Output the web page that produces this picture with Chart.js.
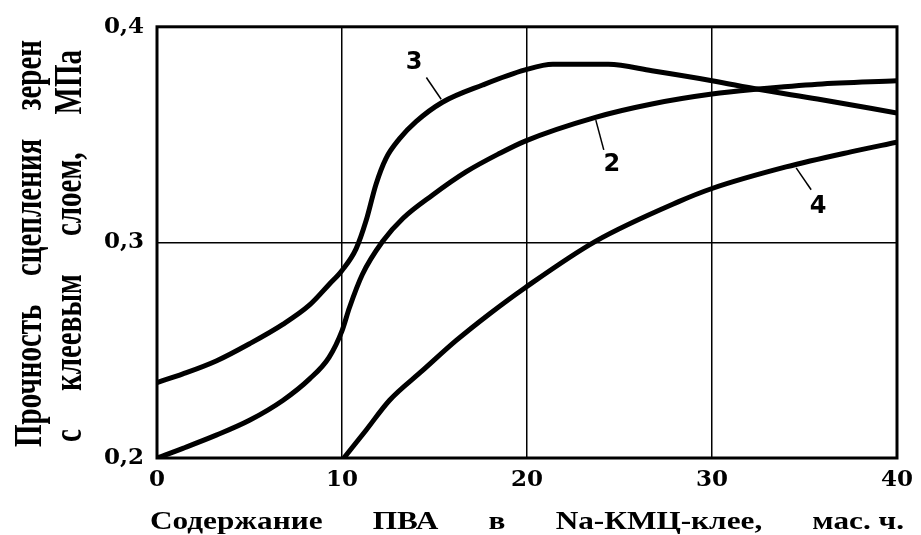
<!DOCTYPE html>
<html><head><meta charset="utf-8">
<script src="https://cdn.jsdelivr.net/npm/chart.js"></script>
<style>html,body{margin:0;padding:0;background:#fff}#w{width:921px;height:535px}</style>
</head><body><div id="w"><canvas id="c" width="921" height="535"></canvas></div>
<script>
// Curve 3 (top)
const x3 = [0, 1.4, 3.2, 5.0, 6.8, 8.25, 9.3, 10, 10.76, 11.3, 11.84, 12.38, 13.1, 14.0, 15.43, 17.6, 19.9, 21.4, 24.4, 26.75, 30, 32.5, 35.7, 40];
const y3 = [0.235, 0.239, 0.245, 0.253, 0.262, 0.271, 0.2805, 0.287, 0.297, 0.310, 0.327, 0.339, 0.348, 0.356, 0.365, 0.373, 0.380, 0.3826, 0.3826, 0.3796, 0.375, 0.371, 0.3665, 0.360];
// Curve 2 (middle)
const x2 = [0, 1.4, 3.2, 5.0, 6.8, 8.25, 9.3, 10, 10.4, 11.1, 12.2, 13.3, 14.9, 16.7, 18.5, 19.9, 23.7, 26.75, 30, 32.5, 35.7, 40];
const y2 = [0.200, 0.2045, 0.2106, 0.2175, 0.2267, 0.2367, 0.2467, 0.259, 0.2697, 0.2851, 0.3005, 0.3112, 0.322, 0.3327, 0.3412, 0.347, 0.358, 0.3642, 0.3688, 0.3711, 0.3734, 0.375];
// Curve 4 (bottom)
const x4 = [10.1, 11.3, 12.56, 14.36, 16.16, 17.95, 19.9, 23.7, 28.2, 30, 34, 37.5, 40];
const y4 = [0.200, 0.2129, 0.2267, 0.2406, 0.2544, 0.2667, 0.279, 0.3005, 0.3189, 0.325, 0.335, 0.342, 0.3465];

const xTicks = [0, 10, 20, 30, 40];
const yTicks = [0.2, 0.3, 0.4];
const yTickLabels = ['0,2', '0,3', '0,4'];
const xTitleWords = ['Содержание', 'ПВА', 'в', 'Na-КМЦ-клее,', 'мас. ч.'];
const yTitleLine1 = ['Прочность', 'сцепления', 'зерен'];
const yTitleLine2 = ['с', 'клеевым', 'слоем,', 'МПа'];
// curve labels: [text, labelX, labelY, leaderX1, leaderY1, leaderX2, leaderY2]
const curveLabels = [
  ['3', 13.9, 0.3834, 14.56, 0.3765, 15.36, 0.3664],
  ['2', 24.58, 0.336, 24.15, 0.3429, 23.72, 0.3567],
  ['4', 35.74, 0.3166, 35.36, 0.3244, 34.55, 0.3346]
];

function pts(xs, ys){ return xs.map((x,i)=>({x:x, y:ys[i]})); }

const serif = "'DejaVu Serif', 'Liberation Serif', serif";
const times = "'Liberation Serif', 'DejaVu Serif', serif";

const decor = {
  id: 'decor',
  afterDatasetsDraw(chart){
    const ctx = chart.ctx, a = chart.chartArea;
    const sx = chart.scales.x, sy = chart.scales.y;
    ctx.save();
    // frame
    ctx.strokeStyle = '#000'; ctx.lineWidth = 3;
    ctx.strokeRect(a.left, a.top, a.right - a.left, a.bottom - a.top);
    // curve labels
    ctx.fillStyle = '#000';
    ctx.font = "bold 24px 'DejaVu Sans', 'Liberation Sans', sans-serif";
    ctx.textAlign = 'center'; ctx.textBaseline = 'middle';
    ctx.lineWidth = 1.5;
    curveLabels.forEach(l => {
      ctx.fillText(l[0], sx.getPixelForValue(l[1]), sy.getPixelForValue(l[2]));
      ctx.beginPath();
      ctx.moveTo(sx.getPixelForValue(l[3]), sy.getPixelForValue(l[4]));
      ctx.lineTo(sx.getPixelForValue(l[5]), sy.getPixelForValue(l[6]));
      ctx.stroke();
    });
    // justified x title (horizontally stretched like the scanned original)
    const XS = 1.25;
    ctx.font = "bold 25px " + times;
    (function(words, start, end, y){
      const widths = words.map(w => ctx.measureText(w).width * XS);
      const total = widths.reduce((s,v)=>s+v,0);
      const gap = (end - start - total) / (words.length - 1);
      let pos = start;
      words.forEach((w,i) => {
        ctx.save();
        ctx.translate(pos, y);
        ctx.scale(XS, 1);
        ctx.textAlign = 'left'; ctx.textBaseline = 'alphabetic';
        ctx.fillText(w, 0, 0);
        ctx.restore();
        pos += widths[i] + gap;
      });
    })(xTitleWords, 150, 904, 529);
    // justified y title lines (rotated, stretched across like the scan)
    function vjust(words, bottom, top, x){
      ctx.font = "bold 29px " + times;
      const widths = words.map(w => ctx.measureText(w).width);
      const total = widths.reduce((s,v)=>s+v,0);
      const gap = (bottom - top - total) / (words.length - 1);
      let pos = bottom;
      words.forEach((w,i) => {
        ctx.save();
        ctx.translate(x, pos);
        ctx.rotate(-Math.PI/2);
        ctx.scale(1, 1.35);
        ctx.textAlign = 'left'; ctx.textBaseline = 'alphabetic';
        ctx.fillText(w, 0, 0);
        ctx.restore();
        pos -= widths[i] + gap;
      });
    }
    vjust(yTitleLine1, 447, 40, 41);
    vjust(yTitleLine2, 442, 50, 81);
    ctx.restore();
  }
};

const lineStyle = {borderColor:'#000', borderWidth:5, pointRadius:0, fill:false, cubicInterpolationMode:'monotone', showLine:true};

new Chart(document.getElementById('c'), {
  type: 'scatter',
  data: { datasets: [
    Object.assign({label:'3', data: pts(x3,y3)}, lineStyle),
    Object.assign({label:'2', data: pts(x2,y2)}, lineStyle),
    Object.assign({label:'4', data: pts(x4,y4)}, lineStyle)
  ]},
  options: {
    responsive:false, animation:false, devicePixelRatio:1,
    layout:{padding:{top:24, right:22, left:0, bottom:0}},
    plugins:{legend:{display:false}, tooltip:{enabled:false}},
    scales:{
      x:{type:'linear', min:0, max:40,
        afterBuildTicks(s){ s.ticks = xTicks.map(v=>({value:v})); },
        afterFit(s){ s.height = 77; },
        grid:{color:'#000', lineWidth:1.5, drawTicks:false},
        border:{display:false},
        ticks:{color:'#000', font:{family:serif, size:23, weight:'bold'}, padding:8, maxRotation:0}
      },
      y:{type:'linear', min:0.2, max:0.4,
        afterBuildTicks(s){ s.ticks = yTicks.map(v=>({value:v})); },
        afterFit(s){ s.width = 157; },
        grid:{color:'#000', lineWidth:1.5, drawTicks:false},
        border:{display:false},
        ticks:{color:'#000', font:{family:serif, size:23, weight:'bold'}, padding:13,
          callback:(v)=>{ const i = yTicks.findIndex(t=>Math.abs(t-v)<1e-9); return i>=0 ? yTickLabels[i] : ''; }}
      }
    }
  },
  plugins:[decor]
});
</script>
</body></html>
